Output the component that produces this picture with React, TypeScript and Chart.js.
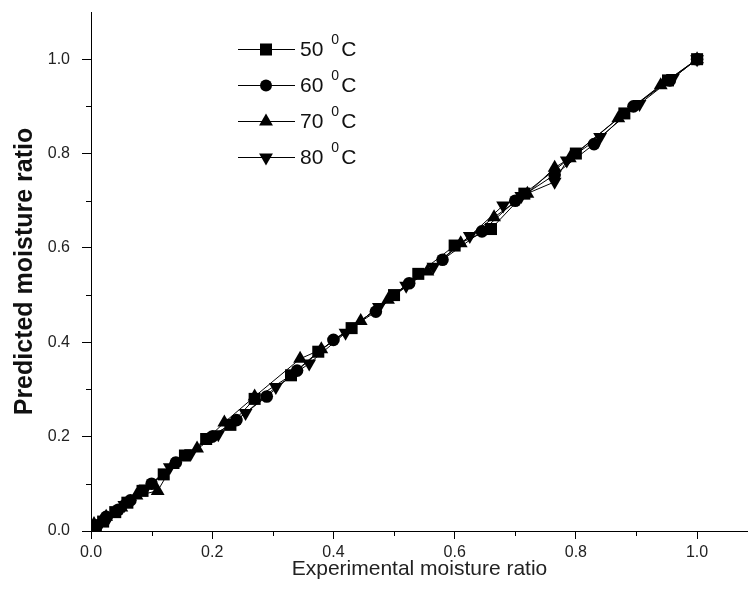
import React, { useEffect, useRef } from "react";
import { Chart, registerables } from "chart.js";

Chart.register(...registerables);

// Series data (experimental x, predicted y)
const x50 = [1.0, 0.952, 0.88, 0.80, 0.715, 0.66, 0.60, 0.54, 0.50, 0.43, 0.375, 0.33, 0.27, 0.23, 0.19, 0.155, 0.12, 0.085, 0.06, 0.04, 0.02, 0.008];
const y50 = [1.0, 0.955, 0.885, 0.80, 0.715, 0.64, 0.605, 0.545, 0.50, 0.43, 0.38, 0.33, 0.28, 0.225, 0.195, 0.16, 0.12, 0.085, 0.06, 0.04, 0.02, 0.008];

const x60 = [1.0, 0.955, 0.895, 0.83, 0.765, 0.70, 0.645, 0.58, 0.525, 0.47, 0.40, 0.34, 0.29, 0.24, 0.20, 0.14, 0.10, 0.065, 0.045, 0.025, 0.01];
const y60 = [1.0, 0.955, 0.90, 0.82, 0.755, 0.70, 0.635, 0.575, 0.525, 0.465, 0.405, 0.34, 0.285, 0.235, 0.20, 0.145, 0.10, 0.065, 0.045, 0.03, 0.012];

const x70 = [1.0, 0.94, 0.87, 0.79, 0.765, 0.72, 0.665, 0.61, 0.555, 0.49, 0.445, 0.38, 0.345, 0.27, 0.22, 0.175, 0.135, 0.11, 0.075, 0.05, 0.025, 0.005];
const y70 = [1.0, 0.945, 0.875, 0.79, 0.77, 0.715, 0.665, 0.61, 0.55, 0.49, 0.445, 0.385, 0.365, 0.285, 0.23, 0.175, 0.14, 0.085, 0.075, 0.05, 0.03, 0.015];

const x80 = [1.0, 0.96, 0.905, 0.84, 0.785, 0.765, 0.71, 0.68, 0.625, 0.565, 0.52, 0.475, 0.42, 0.36, 0.305, 0.255, 0.21, 0.165, 0.13, 0.09, 0.055, 0.03, 0.015];
const y80 = [1.0, 0.96, 0.905, 0.835, 0.785, 0.74, 0.71, 0.69, 0.625, 0.56, 0.52, 0.475, 0.42, 0.355, 0.305, 0.25, 0.205, 0.165, 0.135, 0.09, 0.055, 0.03, 0.015];

const seriesLabels = ["50", "60", "70", "80"];
const xTitle = "Experimental moisture ratio";
const yTitle = "Predicted moisture ratio";
const minorTicks = [0.1, 0.3, 0.5, 0.7, 0.9];

const pts = (xs: number[], ys: number[]) => xs.map((x, i) => ({ x, y: ys[i] }));

const FONT = "'Liberation Sans', Arial, sans-serif";

const styles = [
  { pointStyle: "rect", radius: 8.5, rotation: 0 },
  { pointStyle: "circle", radius: 6.3, rotation: 0 },
  { pointStyle: "triangle", radius: 8, rotation: 0 },
  { pointStyle: "triangle", radius: 8, rotation: 180 },
];

function drawMarker(ctx: CanvasRenderingContext2D, style: string, r: number, rot: number, x: number, y: number) {
  ctx.beginPath();
  if (style === "rect") {
    const s = Math.SQRT1_2 * r;
    ctx.rect(x - s, y - s, 2 * s, 2 * s);
  } else if (style === "circle") {
    ctx.arc(x, y, r, 0, Math.PI * 2);
  } else {
    const sign = rot === 180 ? -1 : 1;
    const a = (Math.PI / 180) * 60;
    ctx.moveTo(x, y - sign * r);
    ctx.lineTo(x + Math.sin(a) * r, y + sign * Math.cos(a) * r);
    ctx.lineTo(x - Math.sin(a) * r, y + sign * Math.cos(a) * r);
    ctx.closePath();
  }
  ctx.fill();
}

const legendPlugin = {
  id: "customLegend",
  afterDraw(chart: any) {
    const ctx = chart.ctx;
    const xs = chart.scales.x;
    const ys = chart.scales.y;
    ctx.save();
    // minor ticks
    ctx.strokeStyle = "#000";
    ctx.lineWidth = 1;
    minorTicks.forEach((v) => {
      const px = Math.round(xs.getPixelForValue(v)) + 0.5;
      ctx.beginPath();
      ctx.moveTo(px, xs.top);
      ctx.lineTo(px, xs.top + 5);
      ctx.stroke();
      const py = Math.round(ys.getPixelForValue(v)) + 0.5;
      ctx.beginPath();
      ctx.moveTo(ys.right, py);
      ctx.lineTo(ys.right - 5, py);
      ctx.stroke();
    });
    // legend
    const x0 = 238, x1 = 295, xm = 266;
    const y0 = 49, dy = 36;
    seriesLabels.forEach((lab, i) => {
      const y = y0 + i * dy;
      ctx.strokeStyle = "#000";
      ctx.lineWidth = 1;
      ctx.beginPath();
      ctx.moveTo(x0, y + 0.5);
      ctx.lineTo(x1, y + 0.5);
      ctx.stroke();
      ctx.fillStyle = "#000";
      const s = styles[i];
      const r = s.pointStyle === "rect" ? 8.5 : s.pointStyle === "circle" ? 6 : 8;
      drawMarker(ctx, s.pointStyle, r, s.rotation, xm, y + 0.5);
      ctx.fillStyle = "#111";
      ctx.textBaseline = "middle";
      ctx.textAlign = "left";
      ctx.font = `21px ${FONT}`;
      const t1 = lab;
      const tx = 300;
      ctx.fillText(t1, tx, y + 1);
      const w1 = ctx.measureText(t1).width;
      ctx.font = `14px ${FONT}`;
      ctx.fillText("0", tx + w1 + 8, y - 9);
      const w2 = ctx.measureText("0").width;
      ctx.font = `21px ${FONT}`;
      ctx.fillText("C", tx + w1 + 8 + w2 + 2, y + 1);
    });
    ctx.restore();
  },
};

export default function App() {
  const ref = useRef<HTMLCanvasElement | null>(null);
  useEffect(() => {
    document.body.style.margin = "0";
    if (!ref.current) return;
    const data = [pts(x50, y50), pts(x60, y60), pts(x70, y70), pts(x80, y80)];
    const tickFont = { family: FONT, size: 16 };
    const chart = new Chart(ref.current, {
      type: "scatter",
      data: {
        datasets: data.map((d, i) => ({
          label: seriesLabels[i],
          data: d,
          showLine: true,
          borderColor: "#000",
          borderWidth: 1,
          backgroundColor: "#000",
          pointBackgroundColor: "#000",
          pointBorderColor: "#000",
          pointBorderWidth: 0,
          pointStyle: styles[i].pointStyle as any,
          pointRadius: styles[i].radius,
          pointRotation: styles[i].rotation,
        })),
      },
      options: {
        responsive: false,
        animation: false,
        devicePixelRatio: 1,
        layout: { autoPadding: false, padding: { top: 12, right: 0, left: 0, bottom: 0 } },
        plugins: { legend: { display: false }, tooltip: { enabled: false } },
        scales: {
          x: {
            type: "linear",
            min: 0,
            max: 1.084,
            position: "bottom",
            afterFit: (s: any) => {
              s.height = 78;
              s.paddingLeft = 0;
              s.paddingRight = 0;
            },
            ticks: {
              stepSize: 0.2,
              includeBounds: false,
              color: "#222",
              font: tickFont,
              padding: 4,
              maxRotation: 0,
              callback: (v: any) => Number(v).toFixed(1),
            },
            grid: { drawOnChartArea: false, drawTicks: true, tickLength: 8, color: "#000" },
            border: { display: true, color: "#000", width: 1 },
            title: {
              display: true,
              text: xTitle,
              color: "#222",
              font: { family: FONT, size: 21 },
              padding: { top: 0, bottom: 27 },
            },
          },
          y: {
            type: "linear",
            min: 0,
            max: 1.1,
            position: "left",
            afterFit: (s: any) => {
              s.width = 91;
              s.paddingTop = 0;
              s.paddingBottom = 0;
            },
            ticks: {
              stepSize: 0.2,
              includeBounds: false,
              color: "#222",
              font: tickFont,
              padding: 12,
              callback: (v: any) => Number(v).toFixed(1),
            },
            grid: { drawOnChartArea: false, drawTicks: true, tickLength: 9, color: "#000" },
            border: { display: true, color: "#000", width: 1 },
            title: {
              display: true,
              text: yTitle,
              color: "#111",
              font: { family: FONT, size: 25, weight: "bold" },
              padding: { top: 10, bottom: 0 },
            },
          },
        },
      },
      plugins: [legendPlugin],
    });
    return () => chart.destroy();
  }, []);
  return (
    <div style={{ width: 748, height: 609, background: "#fff" }}>
      <canvas ref={ref} width={748} height={609} />
    </div>
  );
}
